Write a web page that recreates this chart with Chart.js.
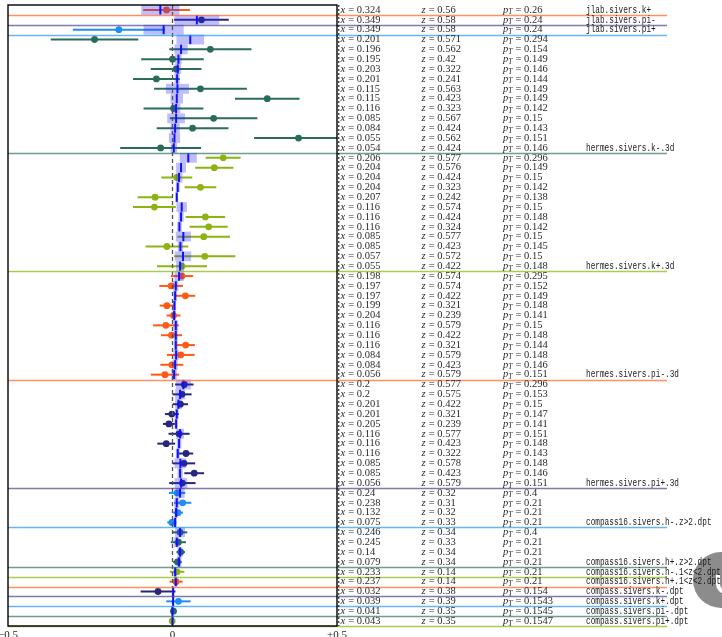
<!DOCTYPE html>
<html>
<head>
<meta charset="utf-8">
<script src="https://cdn.jsdelivr.net/npm/chart.js@4/dist/chart.umd.min.js"></script>
<style>
  html, body { margin: 0; padding: 0; background: #fff; }
  #wrap { width: 722px; height: 637px; }
</style>
</head>
<body>
<div id="wrap"><canvas id="c" width="722" height="637"></canvas></div>
<script>
// Sivers asymmetry: measured points vs. fit, one row per kinematic bin.
const groupNames = [
  'jlab.sivers.k+', 'jlab.sivers.pi-', 'jlab.sivers.pi+',
  'hermes.sivers.k-.3d', 'hermes.sivers.k+.3d', 'hermes.sivers.pi-.3d', 'hermes.sivers.pi+.3d',
  'compass16.sivers.h-.z>2.dpt', 'compass16.sivers.h+.z>2.dpt',
  'compass16.sivers.h-.1<z<2.dpt', 'compass16.sivers.h+.1<z<2.dpt',
  'compass.sivers.k-.dpt', 'compass.sivers.k+.dpt', 'compass.sivers.pi-.dpt', 'compass.sivers.pi+.dpt'
];
const groupSizes = [1, 1, 1, 12, 12, 11, 11, 4, 4, 1, 1, 1, 1, 1, 1];

// kinematics of each bin
const binX = ['0.324','0.349','0.349',
  '0.201','0.196','0.195','0.203','0.201','0.115','0.115','0.116','0.085','0.084','0.055','0.054',
  '0.206','0.204','0.204','0.204','0.207','0.116','0.116','0.116','0.085','0.085','0.057','0.055',
  '0.198','0.197','0.197','0.199','0.204','0.116','0.116','0.116','0.084','0.084','0.056',
  '0.2','0.2','0.201','0.201','0.205','0.116','0.116','0.116','0.085','0.085','0.056',
  '0.24','0.238','0.132','0.075','0.246','0.245','0.14','0.079',
  '0.233','0.237','0.032','0.039','0.041','0.043'];
const binZ = ['0.56','0.58','0.58',
  '0.571','0.562','0.42','0.322','0.241','0.563','0.423','0.323','0.567','0.424','0.562','0.424',
  '0.577','0.576','0.424','0.323','0.242','0.574','0.424','0.324','0.577','0.423','0.572','0.422',
  '0.574','0.574','0.422','0.321','0.239','0.579','0.422','0.321','0.579','0.423','0.579',
  '0.577','0.575','0.422','0.321','0.239','0.577','0.423','0.322','0.578','0.423','0.579',
  '0.32','0.31','0.32','0.33','0.34','0.33','0.34','0.34',
  '0.14','0.14','0.38','0.39','0.35','0.35'];
const binPT = ['0.26','0.24','0.24',
  '0.294','0.154','0.149','0.146','0.144','0.149','0.149','0.142','0.15','0.143','0.151','0.146',
  '0.296','0.149','0.15','0.142','0.138','0.15','0.148','0.142','0.15','0.145','0.15','0.148',
  '0.295','0.152','0.149','0.148','0.141','0.15','0.148','0.144','0.148','0.146','0.151',
  '0.296','0.153','0.15','0.147','0.141','0.151','0.148','0.143','0.148','0.146','0.151',
  '0.4','0.21','0.21','0.21','0.4','0.21','0.21','0.21',
  '0.21','0.21','0.154','0.1543','0.1545','0.1547'];

// measured asymmetry and its uncertainty
const dataValue = [-0.018, 0.088, -0.163,
  -0.237, 0.115, 0.000, 0.011, -0.049, 0.085, 0.288, 0.003, 0.125, 0.061, 0.383, -0.036,
  0.154, 0.127, 0.013, 0.085, -0.053, -0.055, 0.100, 0.110, 0.095, -0.017, 0.098, 0.029,
  0.029, -0.004, 0.039, -0.017, 0.003, -0.020, -0.003, 0.040, 0.025, -0.002, -0.023,
  0.036, 0.029, 0.024, -0.002, -0.011, 0.020, -0.019, 0.041, 0.035, 0.066, 0.030,
  0.014, 0.031, 0.017, -0.002, 0.023, 0.018, 0.025, 0.015,
  0.014, 0.011, -0.044, 0.018, 0.003, -0.001];
const dataError = [0.071, 0.083, 0.140,
  0.133, 0.125, 0.095, 0.077, 0.071, 0.141, 0.098, 0.091, 0.133, 0.109, 0.135, 0.123,
  0.053, 0.058, 0.047, 0.048, 0.053, 0.065, 0.060, 0.058, 0.080, 0.065, 0.093, 0.076,
  0.034, 0.036, 0.030, 0.022, 0.021, 0.039, 0.032, 0.028, 0.042, 0.035, 0.043,
  0.028, 0.029, 0.023, 0.021, 0.018, 0.032, 0.027, 0.022, 0.034, 0.030, 0.040,
  0.025, 0.026, 0.015, 0.014, 0.022, 0.023, 0.013, 0.013,
  0.022, 0.020, 0.053, 0.037, 0.009, 0.009];

// fit central value and band half-width
const fitValue = [-0.037, 0.074, -0.027,
  0.054, 0.026, 0.018, 0.016, 0.014, 0.015, 0.013, 0.011, 0.011, 0.008, 0.006, 0.004,
  0.048, 0.026, 0.020, 0.016, 0.013, 0.028, 0.026, 0.021, 0.033, 0.024, 0.032, 0.023,
  0.020, 0.010, 0.008, 0.006, 0.005, 0.010, 0.010, 0.010, 0.011, 0.008, 0.005,
  0.033, 0.023, 0.018, 0.013, 0.011, 0.023, 0.020, 0.016, 0.024, 0.023, 0.026,
  0.023, 0.013, 0.011, 0.008, 0.023, 0.013, 0.023, 0.020,
  0.008, 0.010, 0.002, 0.002, 0.000, 0.000];
const fitError = [0.058, 0.068, 0.061,
  0.042, 0.020, 0.010, 0.010, 0.008, 0.035, 0.019, 0.013, 0.027, 0.014, 0.017, 0.010,
  0.026, 0.015, 0.010, 0.006, 0.004, 0.016, 0.008, 0.007, 0.023, 0.008, 0.025, 0.012,
  0.014, 0.008, 0.006, 0.005, 0.005, 0.007, 0.006, 0.006, 0.008, 0.008, 0.008,
  0.023, 0.015, 0.010, 0.006, 0.005, 0.012, 0.007, 0.006, 0.018, 0.008, 0.019,
  0.014, 0.008, 0.006, 0.005, 0.015, 0.008, 0.008, 0.007,
  0.005, 0.005, 0.003, 0.003, 0.003, 0.003];

const xTicks = [-0.5, 0, 0.5];
const xTickLabels = ['\u22120.5', '0', '+0.5'];

const palette = ['#ff5a14', '#27277a', '#1e8ff0', '#2a6b5c', '#8db312'];
const paletteFaint = ['rgba(255,110,50,0.75)', 'rgba(60,50,130,0.65)', 'rgba(40,150,240,0.7)',
                      'rgba(50,115,100,0.7)', 'rgba(140,185,20,0.75)'];

const nRows = dataValue.length;

// group start rows
const groupStart = [];
(function () { let s = 0; for (const n of groupSizes) { groupStart.push(s); s += n; } })();

const datasets = groupNames.map((name, g) => {
  const pts = [];
  for (let k = 0; k < groupSizes[g]; k++) {
    const r = groupStart[g] + k;
    pts.push({ x: dataValue[r], y: r + 0.5, err: dataError[r] });
  }
  return {
    label: name,
    data: pts,
    backgroundColor: palette[g % 5],
    borderColor: palette[g % 5],
    pointRadius: 3.4,
    pointBorderWidth: 0,
    showLine: false
  };
});

// horizontal error bars under each marker
const errorBars = {
  id: 'errorBars',
  beforeDatasetsDraw(chart) {
    const { ctx, chartArea: a, scales: { x, y } } = chart;
    ctx.save();
    ctx.beginPath(); ctx.rect(a.left, a.top, a.right - a.left, a.bottom - a.top); ctx.clip();
    chart.data.datasets.forEach((ds) => {
      ctx.strokeStyle = ds.borderColor;
      ctx.lineWidth = 2;
      ds.data.forEach(p => {
        const py = y.getPixelForValue(p.y);
        ctx.beginPath();
        ctx.moveTo(x.getPixelForValue(p.x - p.err), py);
        ctx.lineTo(x.getPixelForValue(p.x + p.err), py);
        ctx.stroke();
      });
    });
    ctx.restore();
  }
};

// fit bands, fit line, zero line
const fitLayer = {
  id: 'fitLayer',
  afterDatasetsDraw(chart) {
    const { ctx, chartArea: a, scales: { x, y } } = chart;
    ctx.save();
    ctx.beginPath(); ctx.rect(a.left, a.top, a.right - a.left, a.bottom - a.top); ctx.clip();
    ctx.fillStyle = 'rgba(40,40,255,0.30)';
    for (let r = 0; r < nRows; r++) {
      const y0 = y.getPixelForValue(r), y1 = y.getPixelForValue(r + 1);
      const x0 = x.getPixelForValue(fitValue[r] - fitError[r]);
      const x1 = x.getPixelForValue(fitValue[r] + fitError[r]);
      ctx.fillRect(x0, y0, x1 - x0, y1 - y0);
    }
    // zero reference
    ctx.strokeStyle = '#555';
    ctx.lineWidth = 1.3;
    ctx.setLineDash([4, 3]);
    const zx = x.getPixelForValue(0);
    ctx.beginPath(); ctx.moveTo(zx, a.top); ctx.lineTo(zx, a.bottom); ctx.stroke();
    ctx.setLineDash([]);
    // fit central value
    ctx.strokeStyle = '#1010ff';
    ctx.lineWidth = 2;
    for (let r = 0; r < nRows; r++) {
      const y0 = y.getPixelForValue(r), y1 = y.getPixelForValue(r + 1);
      const px = x.getPixelForValue(fitValue[r]);
      ctx.beginPath(); ctx.moveTo(px, y0 + 0.3); ctx.lineTo(px, y1 - 0.3); ctx.stroke();
    }
    ctx.restore();
  }
};

function mathLabel(ctx, x0, yc, name, sub, value) {
  ctx.font = 'italic 10.5px "Liberation Serif", serif';
  ctx.fillText(name, x0, yc);
  let cx = x0 + ctx.measureText(name).width;
  if (sub) {
    ctx.font = 'italic 7.5px "Liberation Serif", serif';
    ctx.fillText(sub, cx, yc + 2.5);
    cx += ctx.measureText(sub).width;
  }
  ctx.font = '10.5px "Liberation Serif", serif';
  ctx.fillText(' = ' + value, cx + 0.5, yc);
}

// row annotations, group separators, frame and x tick labels
const annotations = {
  id: 'annotations',
  afterDraw(chart) {
    const { ctx, chartArea: a, scales: { x, y } } = chart;
    ctx.save();

    // badge at the right edge
    ctx.fillStyle = 'rgba(128,128,128,0.9)';
    ctx.beginPath(); ctx.arc(721, 580, 28, 0, Math.PI * 2); ctx.fill();
    ctx.strokeStyle = '#fff';
    ctx.lineWidth = 4;
    ctx.beginPath(); ctx.arc(726, 584, 8, Math.PI * 0.5, Math.PI * 1.0); ctx.lineTo(718, 575); ctx.stroke();

    // group separators
    groupNames.forEach((name, g) => {
      const endRow = groupStart[g] + groupSizes[g];
      const py = Math.round(y.getPixelForValue(endRow)) + 0.5;
      ctx.strokeStyle = paletteFaint[g % 5];
      ctx.lineWidth = 1.6;
      ctx.beginPath(); ctx.moveTo(a.left, py); ctx.lineTo(667, py); ctx.stroke();
    });

    // frame
    ctx.strokeStyle = '#000';
    ctx.lineWidth = 1.4;
    ctx.strokeRect(a.left, a.top, a.right - a.left, a.bottom - a.top);
    ctx.lineWidth = 1;
    ctx.setLineDash([2, 2]);
    ctx.beginPath(); ctx.moveTo(a.right + 1.8, a.top); ctx.lineTo(a.right + 1.8, a.bottom); ctx.stroke();
    ctx.setLineDash([]);

    // per-row kinematics
    ctx.fillStyle = '#2a2a2a';
    ctx.textBaseline = 'middle';
    ctx.textAlign = 'left';
    for (let r = 0; r < nRows; r++) {
      const yc = y.getPixelForValue(r + 0.5);
      mathLabel(ctx, 340.5, yc, 'x', '', binX[r]);
      mathLabel(ctx, 421.5, yc, 'z', '', binZ[r]);
      mathLabel(ctx, 503, yc, 'p', 'T', binPT[r]);
    }
    // dataset names on the last row of each group
    ctx.font = '10.5px "Liberation Mono", monospace';
    ctx.fillStyle = '#1a1a1a';
    groupNames.forEach((name, g) => {
      const r = groupStart[g] + groupSizes[g] - 1;
      const yc = y.getPixelForValue(r + 0.5);
      ctx.fillText(name, 586, yc, name.length * 4.65);
    });

    // x tick labels
    ctx.font = '11px "Liberation Serif", serif';
    ctx.fillStyle = '#222';
    ctx.textAlign = 'center';
    ctx.textBaseline = 'top';
    xTicks.forEach((v, i) => ctx.fillText(xTickLabels[i], x.getPixelForValue(v), a.bottom + 3.5));
    ctx.restore();
  }
};

new Chart(document.getElementById('c'), {
  type: 'scatter',
  data: { datasets },
  options: {
    responsive: false,
    animation: false,
    layout: { padding: { left: 8, right: 385, top: 5, bottom: 11 } },
    plugins: { legend: { display: false }, tooltip: { enabled: false } },
    scales: {
      x: { type: 'linear', min: -0.5, max: 0.5, display: false },
      y: { type: 'linear', min: 0, max: nRows, reverse: true, display: false }
    }
  },
  plugins: [errorBars, fitLayer, annotations]
});
</script>
</body>
</html>
